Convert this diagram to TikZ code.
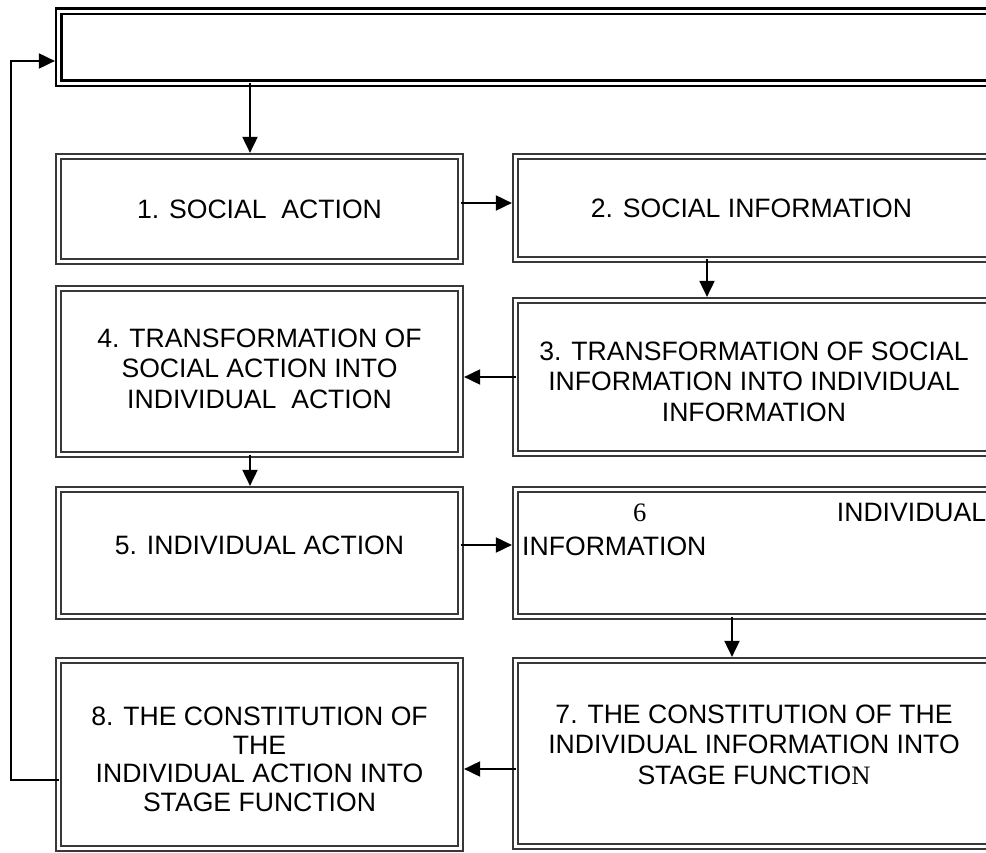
\documentclass[tikz,border=0pt]{standalone}
\usepackage{fontspec}
\setmainfont{Liberation Sans}
\newfontfamily\timesfont{Liberation Serif}
\usetikzlibrary{arrows.meta}

\tikzset{
  box/.style={draw=black!78, double, double distance=2.3pt, line width=2.5pt,
    inner sep=0pt, outer sep=0pt},
  topbox/.style={box, draw=black, line width=2.8pt, double distance=2.4pt},
  txt/.style={font=\fontsize{26.6}{30.5}\selectfont, align=center, inner sep=0pt},
  arr/.style={line width=1.9pt, -{Triangle[length=16pt,width=15pt]}, shorten >=3.6pt}
}

\begin{document}
\begin{tikzpicture}[x=1pt,y=-1pt]
\useasboundingbox (0,0) rectangle (986,853);

% the boxes
\node[topbox, minimum width=941pt, minimum height=72pt] (top) at (529,47.5) {};
\node[box, minimum width=402pt, minimum height=105pt] (b1) at (259.5,209) {};
\node[box, minimum width=477pt, minimum height=103pt] (b2) at (754,208) {};
\node[box, minimum width=477pt, minimum height=153pt] (b3) at (754,377) {};
\node[box, minimum width=402pt, minimum height=166pt] (b4) at (259.5,371.5) {};
\node[box, minimum width=402pt, minimum height=127pt] (b5) at (259.5,553) {};
\node[box, minimum width=477pt, minimum height=127pt] (b6) at (754,553) {};
\node[box, minimum width=477pt, minimum height=186pt] (b7) at (754,753.5) {};
\node[box, minimum width=402pt, minimum height=188pt] (b8) at (259.5,754.5) {};

% texts
\node[txt] (t1) at (b1) {1. SOCIAL~ ACTION};
\node[txt] (t2) at ([xshift=-2.5pt]b2.center) {2. SOCIAL INFORMATION};
\node[txt] (t3) at ([yshift=-4.5pt]b3.center) {3. TRANSFORMATION OF SOCIAL\\INFORMATION INTO INDIVIDUAL\\INFORMATION};
\node[txt] (t4) at ([yshift=3pt]b4.center) {4. TRANSFORMATION OF\\SOCIAL ACTION INTO\\INDIVIDUAL~ ACTION};
\node[txt] (t5) at ([yshift=8pt]b5.center) {5. INDIVIDUAL ACTION};
\node[txt, align=left, text width=464pt, anchor=north west] (t6)
  at ([xshift=6.5pt,yshift=-13.5pt]b6.north west)
  {\hspace*{111pt}{\timesfont 6}\hfill INDIVIDUAL\\[3.5pt]INFORMATION};
\node[txt] (t7) at ([yshift=9pt]b7.center) {7. THE CONSTITUTION OF THE\\INDIVIDUAL INFORMATION INTO\\STAGE FUNCTIO{\timesfont N}};
\node[txt, font=\fontsize{26.6}{28.5}\selectfont] (t8) at ([yshift=-5pt]b8.center) {8. THE CONSTITUTION OF\\THE\\INDIVIDUAL ACTION INTO\\STAGE FUNCTION};

% arrows between the boxes
\coordinate (c01) at ([xshift=-9.5pt]b1.north);
\draw[arr] (c01 |- top.south) -- (c01);
\coordinate (c12) at ([yshift=6pt]b1.east);
\draw[arr] (c12) -- (c12 -| b2.west);
\coordinate (c23) at ([xshift=-47pt]b2.south);
\draw[arr] (c23) -- (c23 |- b3.north);
\draw[arr] (b3.west) -- (b3.west -| b4.east);
\coordinate (c45) at ([xshift=-9.5pt]b4.south);
\draw[arr] (c45) -- (c45 |- b5.north);
\coordinate (c56) at ([yshift=8pt]b5.east);
\draw[arr] (c56) -- (c56 -| b6.west);
\coordinate (c67) at ([xshift=-22pt]b6.south);
\draw[arr] (c67) -- (c67 |- b7.north);
\coordinate (c78) at ([yshift=-15.5pt]b7.west);
\draw[arr] (c78) -- (c78 -| b8.east);

% back to the top box
\coordinate (c81) at ([yshift=-25.5pt]b8.west);
\coordinate (c80) at ([yshift=-13.5pt]top.west);
\draw[arr] (c81) -- ++(-47.5,0) |- (c80);

\end{tikzpicture}
\end{document}
